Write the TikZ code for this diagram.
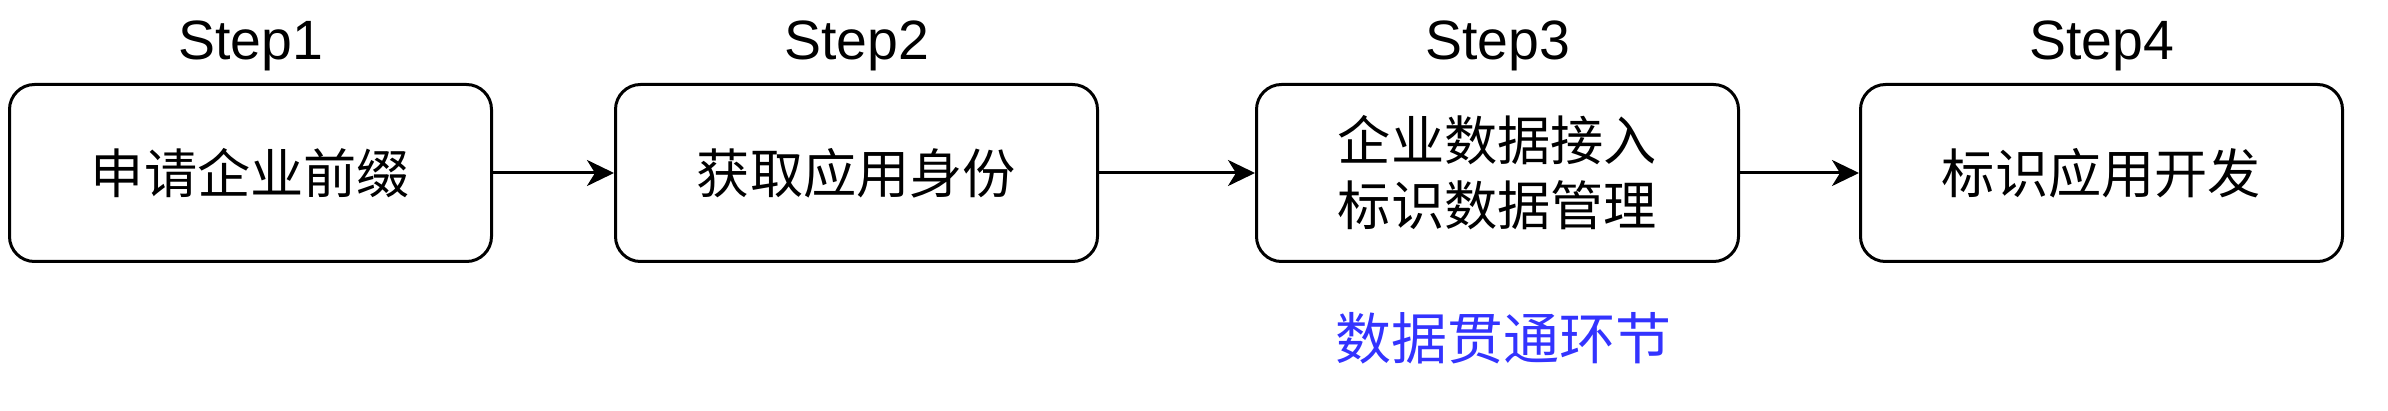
\documentclass[tikz,border=0pt]{standalone}
\usepackage{fontspec}
\setmainfont{Liberation Sans}
\newfontfamily\cjk{Noto Sans CJK SC}
\usetikzlibrary{positioning,arrows.meta}
\definecolor{noteblue}{RGB}{51,51,255}

\begin{document}
\begin{tikzpicture}[x=0.5pt,y=0.5pt,line width=1.5pt,
        stepbox/.style={draw,rounded corners=12.5pt,minimum width=241pt,minimum height=88.5pt,
            align=center,inner sep=0pt,font=\fontsize{26.6}{32.5}\selectfont\cjk},
        steplabel/.style={anchor=base,font=\fontsize{27.7}{30}\selectfont},
        >={Stealth[length=13.5pt,width=13pt,inset=4pt]}]
            \useasboundingbox (0,0) rectangle (2388,-411);
            \node[stepbox] (s_1) at (250.5,-173) {申请企业前缀};
            \node[stepbox] (s_2) [right=60.5pt of s_1] {获取应用身份};
            \node[stepbox] (s_3) [right=78pt of s_2] {企业数据接入\\标识数据管理};
            \node[stepbox] (s_4) [right=59.5pt of s_3] {标识应用开发};
            \node[steplabel] (l_1) at ([yshift=11.5pt]s_1.north) {Step1};
            \node[steplabel] (l_2) at ([yshift=11.5pt]s_2.north) {Step2};
            \node[steplabel] (l_3) at ([yshift=11.5pt]s_3.north) {Step3};
            \node[steplabel] (l_4) at ([yshift=11.5pt]s_4.north) {Step4};
            \node[text=noteblue,font=\fontsize{28}{34}\selectfont\cjk] (note) [below=20.5pt of s_3,xshift=3pt] {数据贯通环节};
            \path[->]
                (s_1) edge (s_2)
                (s_2) edge (s_3)
                (s_3) edge (s_4);
        \end{tikzpicture}
\end{document}
